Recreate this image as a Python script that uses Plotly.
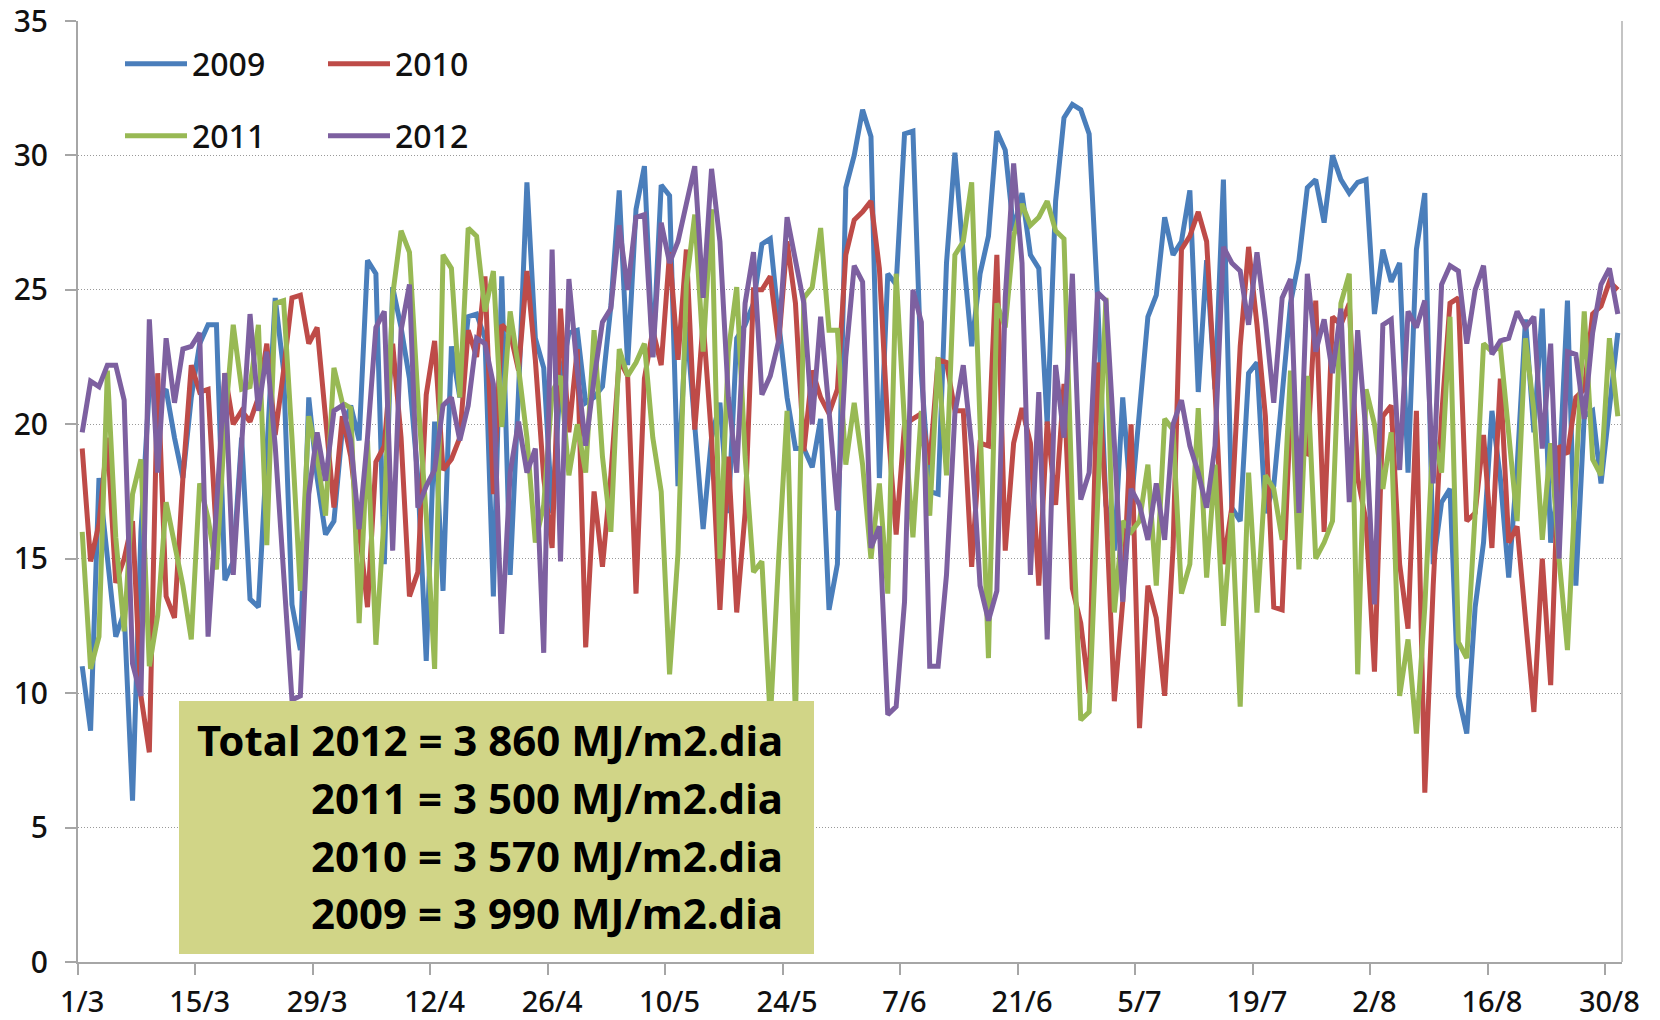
import plotly.graph_objects as go

tick_labels = ["1/3","15/3","29/3","12/4","26/4","10/5","24/5","7/6","21/6","5/7","19/7","2/8","16/8","30/8"]
tick_index = [0,14,28,42,56,70,84,98,112,126,140,154,168,182]
y_ticks = [0,5,10,15,20,25,30,35]

v2009 = [11.0,8.6,18.0,15.2,12.1,13.0,6.0,16.0,21.4,21.0,
 21.3,19.5,18.0,21.0,23.0,23.7,23.7,14.2,14.9,19.5,
 13.5,13.2,19.0,24.7,22.0,13.3,11.6,21.0,18.0,15.9,
 16.4,19.8,20.7,19.4,26.1,25.6,14.8,25.1,23.6,21.7,
 18.0,11.2,20.1,13.8,22.9,21.0,24.0,24.1,23.2,13.6,
 25.5,14.4,21.2,29.0,23.2,22.1,16.7,21.7,23.4,23.5,
 20.8,21.0,21.4,24.4,28.7,22.2,28.0,29.6,22.5,28.9,
 28.5,17.7,23.8,20.2,16.1,19.5,20.8,16.7,23.2,23.7,
 24.5,26.7,26.9,23.8,21.0,19.1,19.1,18.4,20.2,13.1,
 14.8,28.8,30.0,31.7,30.7,18.0,25.6,25.2,30.8,30.9,
 21.9,17.5,17.4,26.0,30.1,26.3,22.9,25.6,27.0,30.9,
 30.2,27.2,28.6,26.3,25.8,20.0,28.3,31.4,31.9,31.7,
 30.8,24.7,17.0,15.3,21.0,17.0,20.7,24.0,24.8,27.7,
 26.3,26.8,28.7,21.2,26.1,21.3,29.1,16.9,16.4,21.9,
 22.3,16.7,17.7,21.3,24.5,26.1,28.8,29.1,27.5,30.0,
 29.1,28.6,29.0,29.1,24.1,26.5,25.3,26.0,18.2,26.5,
 28.6,14.8,17.1,17.6,9.9,8.5,13.2,15.6,20.5,18.0,
 14.3,18.4,23.9,19.7,24.3,15.6,18.0,24.6,14.0,20.3,
 20.5,17.8,20.6,23.4]

v2010 = [19.1,14.9,16.3,19.5,14.1,15.0,16.4,9.9,7.8,21.9,
 13.6,12.8,18.0,22.2,21.2,21.3,15.8,21.9,20.0,20.5,
 20.1,21.0,23.0,19.6,22.0,24.7,24.8,23.0,23.6,20.0,
 16.9,20.3,18.8,16.1,13.2,18.6,19.2,23.0,19.5,13.6,
 14.5,21.1,23.1,18.3,18.7,19.5,23.5,22.5,25.5,17.4,
 23.7,23.4,22.0,25.7,22.4,18.0,15.4,24.3,19.7,22.8,
 11.7,17.5,14.7,18.1,22.4,21.8,13.7,21.7,23.5,22.2,
 26.4,22.4,26.5,19.8,23.8,19.5,13.1,18.8,13.0,16.7,
 25.0,25.0,25.5,23.0,26.8,24.5,19.0,22.0,21.0,20.4,
 21.3,26.3,27.6,27.9,28.3,25.8,20.0,15.9,20.0,20.2,
 20.4,18.5,22.4,22.3,20.5,20.5,14.7,19.3,19.2,26.3,
 15.3,19.3,20.6,19.3,14.0,20.1,17.0,21.5,13.9,12.6,
 10.0,22.3,17.0,9.7,13.4,20.0,8.7,14.0,12.8,9.9,
 15.4,26.5,27.0,27.9,26.8,21.3,14.8,16.9,22.9,26.6,
 23.7,20.3,13.2,13.1,20.5,19.0,18.9,24.6,16.0,24.0,
 23.7,24.5,18.0,16.4,10.8,20.3,20.7,14.8,12.4,20.5,
 6.3,14.0,20.3,24.5,24.7,16.4,16.7,19.6,15.4,21.7,
 15.6,16.2,12.7,9.3,15.0,10.3,19.2,18.9,21.0,21.3,
 24.1,24.4,25.3,25.0]

v2011 = [16.0,10.9,12.1,22.0,15.8,12.3,17.4,18.7,11.0,12.9,
 17.1,15.5,14.0,12.0,17.8,16.5,14.6,20.0,23.7,21.3,
 21.4,23.7,15.5,24.5,24.6,19.5,13.8,20.3,18.8,16.6,
 22.1,20.8,20.6,12.6,19.4,11.8,16.6,24.8,27.2,26.4,
 21.0,16.6,10.9,26.3,25.8,21.0,27.3,27.0,24.2,25.7,
 19.9,24.2,22.1,19.5,15.6,17.0,21.2,21.8,18.1,20.0,
 18.2,23.5,18.8,16.0,22.8,21.8,22.3,23.0,19.5,17.5,
 10.7,15.2,25.2,27.8,22.7,28.0,15.0,22.7,25.1,18.8,
 14.5,14.9,9.0,15.0,20.5,9.0,24.7,25.1,27.3,23.5,
 23.5,18.5,20.8,18.5,15.0,17.8,13.7,25.6,20.0,15.8,
 20.5,16.6,22.5,18.1,26.3,26.8,29.0,20.0,11.3,24.5,
 23.6,27.0,28.2,27.4,27.7,28.3,27.2,26.9,17.0,9.0,
 9.3,17.0,24.7,13.0,16.4,16.0,16.4,18.5,14.0,20.2,
 19.8,13.7,14.8,20.6,14.3,18.5,12.5,16.7,9.5,18.2,
 13.0,18.1,17.6,15.7,22.0,14.6,21.8,15.0,15.6,16.4,
 24.5,25.6,10.7,21.3,20.0,17.6,19.7,9.9,12.0,8.5,
 13.2,19.7,18.2,24.0,11.9,11.3,16.7,23.0,22.7,22.9,
 19.7,16.4,23.2,20.5,15.7,19.3,15.0,11.6,18.0,24.2,
 18.7,18.1,23.2,20.3]

v2012 = [19.7,21.6,21.4,22.2,22.2,20.9,11.1,9.9,23.9,18.2,
 23.2,20.8,22.8,22.9,23.4,12.1,16.9,21.9,14.4,19.5,
 24.1,20.5,22.7,19.2,14.4,9.75,9.9,17.4,19.7,17.9,
 20.5,20.7,19.4,16.1,19.5,23.6,24.2,15.3,23.5,25.2,
 16.9,17.7,18.3,20.7,21.0,19.4,20.7,23.2,23.0,21.5,
 12.2,18.2,20.1,18.2,19.1,11.5,26.5,14.9,25.4,22.0,
 19.2,21.7,23.8,24.3,27.4,25.0,27.7,27.8,22.5,27.5,
 26.0,26.8,28.2,29.6,24.7,29.5,26.8,21.0,18.2,24.5,
 26.4,21.1,21.8,23.1,27.7,26.2,24.5,20.0,24.0,20.5,
 16.8,22.5,25.9,25.3,15.4,16.2,9.2,9.5,13.4,25.0,
 23.8,11.0,11.0,14.4,20.4,22.2,19.2,14.0,12.7,13.8,
 24.7,29.7,26.0,14.4,21.2,12.0,22.2,19.5,25.6,17.2,
 18.2,24.9,24.6,19.3,13.4,17.6,17.0,15.7,17.8,15.7,
 20.0,20.9,19.2,18.2,16.9,19.2,26.6,26.0,25.7,23.7,
 26.4,23.9,20.8,24.7,25.4,16.7,25.6,22.7,23.9,21.9,
 24.3,17.1,23.5,19.6,13.3,23.7,23.9,18.3,24.2,23.6,
 24.6,17.8,25.2,25.9,25.7,23.0,25.0,25.9,22.6,23.1,
 23.2,24.2,23.6,24.0,19.1,23.0,15.0,22.7,22.6,20.2,
 23.4,25.2,25.8,24.1]

series = [("2009", v2009, "#4A7EBB"), ("2010", v2010, "#BE4B48"),
          ("2011", v2011, "#98B954"), ("2012", v2012, "#7D60A0")]
note_lines = ["Total 2012 = 3 860 MJ/m2.dia", "2011 = 3 500 MJ/m2.dia",
              "2010 = 3 570 MJ/m2.dia", "2009 = 3 990 MJ/m2.dia"]

W, H = 1660, 1020
L, R, T, B = 78, 1622, 21, 962
FONT = "Noto Sans"
px = lambda v: (v - L) / (R - L)
py = lambda v: (B - v) / (B - T)

fig = go.Figure()
legend_ids = ["legend", "legend2", "legend3", "legend4"]
for (name, vals, col), lg in zip(series, legend_ids):
    fig.add_trace(go.Scatter(x=list(range(len(vals))), y=vals, mode="lines", name=name,
                             line=dict(color=col, width=5), legend=lg))

leg_pos = [(120, 64), (323, 64), (120, 136), (323, 136)]
legs = {}
for lg, (lx, ly) in zip(legend_ids, leg_pos):
    legs[lg] = dict(x=lx / W, y=1 - ly / H, xref="container", yref="container",
                    xanchor="left", yanchor="middle", bgcolor="rgba(0,0,0,0)",
                    itemwidth=62, font=dict(family=FONT, size=32, color="#111", weight=500),
                    borderwidth=0)

fig.update_layout(
    width=W, height=H, paper_bgcolor="white", plot_bgcolor="white",
    margin=dict(l=L, r=W - R, t=T, b=H - B, autoexpand=False),
    showlegend=True, **legs,
    xaxis=dict(range=[-0.5, 183.5], tickmode="array", tickvals=tick_index, ticktext=tick_labels,
               ticks="", showgrid=False, zeroline=False, showline=True, linecolor="#A6A6A6", linewidth=2,
               tickfont=dict(family=FONT, size=29, color="#111", weight=500), ticklabelstandoff=13, tickangle=0,
               ticklabeloverflow="allow",
               minor=dict(tickmode="array", tickvals=[k - 0.5 for k in tick_index], ticks="outside",
                          ticklen=11, tickwidth=1.5, tickcolor="#A6A6A6", showgrid=False)),
    yaxis=dict(range=[0, 35], tickmode="array", tickvals=y_ticks, ticks="outside", ticklen=11,
               tickwidth=2, tickcolor="#A6A6A6", showline=True, linecolor="#A6A6A6", linewidth=2,
               gridcolor="#999999", griddash="1px,2px", gridwidth=1, zeroline=False,
               ticklabeloverflow="allow",
               tickfont=dict(family=FONT, size=30, color="#111", weight=500), ticklabelstandoff=11),
    shapes=[
        dict(type="rect", xref="paper", yref="paper", x0=px(179), x1=px(814), y0=py(954), y1=py(701),
             fillcolor="#D1D587", line_width=0, layer="above"),
        dict(type="line", xref="paper", yref="paper", x0=1, x1=1, y0=0, y1=1,
             line=dict(color="#C4C4C4", width=2), layer="below"),
    ],
)
for line, yc in zip(note_lines, [739, 797, 855, 912]):
    fig.add_annotation(xref="paper", yref="paper", x=px(785), y=py(yc), text="<b>%s</b>" % line,
                       showarrow=False, xanchor="right", yanchor="middle",
                       font=dict(family=FONT, size=42, color="#000"))

fig.write_html("out.html", config={"displayModeBar": False},
               post_script="document.body.style.margin='0';document.body.style.overflow='hidden';")
